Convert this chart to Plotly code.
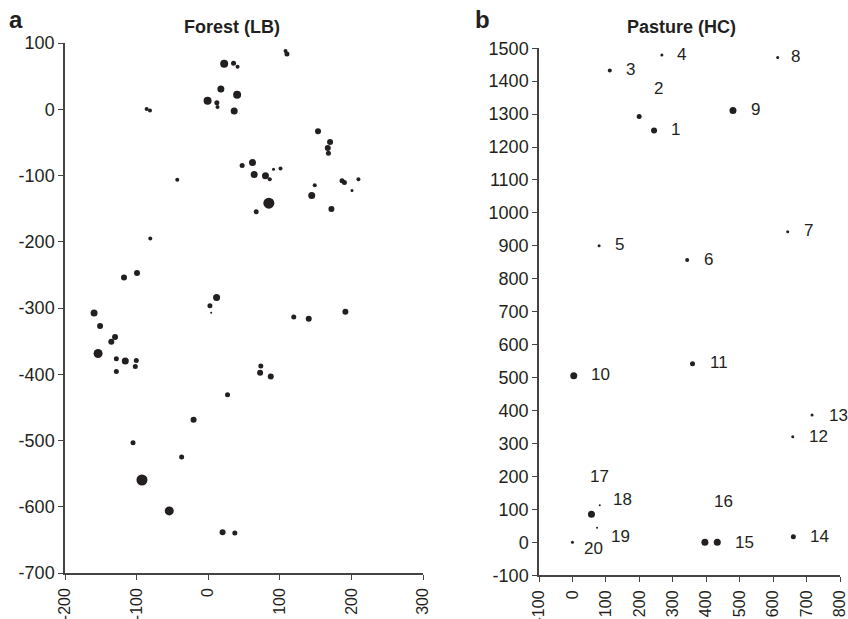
import plotly.graph_objects as go

# ---- Panel a: Forest (LB) ----
forest_x = [22.3, 35.4, 41, 108, 110, 17.7, -0.9, 12.1, 13, 40.4, 36.3, -86, -81.3, -43.2,
            153.4, 170.2, 167, 167.9, 47.4, 61.9, 64.2, 80, 86, 91.2, 101, 148.8, 144.6,
            186.9, 190.2, 209.8, 200.8, 84.7, 172.1, 67, -80.9, -117.6, -99.4, -159.4, -151,
            -130.1, -135.3, -153.8, -128.3, -115.8, -100.4, -101.8, -128.3, 2.4, 11.7, 4.2,
            119.5, 140.4, 191.6, 73.5, 72.5, 87.4, 27, -20.4, -105, -37.1, -92.5, -54.4,
            20.1, 37.2]
forest_y = [68.8, 69.4, 64.3, 88, 83.4, 30.6, 13, 10, 3.5, 22, -2.6, 0.5, -2, -106.6,
            -33.2, -49.3, -58.4, -66.4, -85, -80.5, -98.6, -100.2, -105.6, -90.5, -89.6,
            -114.6, -130.3, -108, -110.7, -105.6, -122.8, -141.8, -150.4, -154.9, -195.2,
            -254, -247, -307.7, -327.3, -343.9, -351, -368.6, -376.6, -380, -379.2, -388.2,
            -395.8, -296.7, -284.2, -307.2, -313.7, -316.3, -305.7, -387.6, -397.7, -403.3,
            -430.9, -468.6, -503.3, -524.9, -559.6, -606.3, -638.6, -639.5]
forest_w = [8, 5, 4, 4, 5, 7, 8, 5, 4, 8, 7, 4, 4, 4,
            6, 6, 6, 5, 5, 7, 7, 7, 4, 3, 4, 4, 7,
            5, 5, 4, 3, 11, 6, 5, 4, 6, 6, 7, 6,
            6, 6, 9, 5, 7, 5, 5, 5, 5, 7, 2,
            5, 6, 6, 5, 6, 6, 5, 6, 5, 5, 11, 9,
            6, 5]
forest_xticks = [-200, -100, 0, 100, 200, 300]
forest_yticks = [100, 0, -100, -200, -300, -400, -500, -600, -700]

# ---- Panel b: Pasture (HC) ----
pasture_id = [str(i) for i in range(1, 21)]
pasture_x = [244, 199.5, 111.7, 267.4, 79.7, 343, 643.7, 613.7, 480, 3.9, 359, 658.7,
             716.5, 660.5, 433, 396, 56.9, 81.7, 73.7, 0]
pasture_y = [1250, 1293, 1432, 1479, 900, 857, 943, 1472, 1311, 506, 542, 320.6,
             386.5, 17, 0, 0, 85, 113, 44.3, 0]
pasture_w = [6, 5, 4, 3, 3, 4, 3, 3, 7, 7, 5, 3, 3, 5, 7, 7, 7, 2, 2, 3]
label_x = [308, 256, 173.6, 327, 139.5, 406, 705, 666.5, 546, 82.6, 437, 735.5, 795,
           738.4, 514, 452, 79.7, 149.7, 144.6, 61.7]
label_y = [1252, 1378, 1434, 1481, 904, 860, 948, 1474, 1314, 509, 545, 320.6, 386,
           17, 0, 123, 201, 130.5, 19, -18]
pasture_xticks = [-100, 0, 100, 200, 300, 400, 500, 600, 700, 800]
pasture_yticks = [1500, 1400, 1300, 1200, 1100, 1000, 900, 800, 700, 600, 500, 400,
                  300, 200, 100, 0, -100]

FONT = "Liberation Sans, Arial, sans-serif"
INK = "#231f20"


def hy(vals):
    return [str(v) for v in vals]  # plain hyphen-minus, as in the original


fig = go.Figure()
fig.add_trace(go.Scatter(x=forest_x, y=forest_y, mode="markers",
                         marker=dict(size=forest_w, color=INK, opacity=1, line=dict(width=0)),
                         xaxis="x", yaxis="y", showlegend=False, cliponaxis=False))
fig.add_trace(go.Scatter(x=pasture_x, y=pasture_y, mode="markers",
                         marker=dict(size=pasture_w, color=INK, opacity=1, line=dict(width=0)),
                         xaxis="x2", yaxis="y2", showlegend=False, cliponaxis=False))

annotations = []
for t, lx, ly in zip(pasture_id, label_x, label_y):
    annotations.append(dict(x=lx, y=ly, xref="x2", yref="y2", text=t, showarrow=False,
                            xanchor="center", yanchor="middle",
                            font=dict(family=FONT, size=17, color=INK)))


def paper_text(px, py, text, size):
    return dict(x=px / 848, y=1 - py / 619, xref="paper", yref="paper", text=text,
                showarrow=False, xanchor="center", yanchor="middle",
                font=dict(family=FONT, size=size, color=INK))


annotations += [
    paper_text(231.7, 27, "<b>Forest (LB)</b>", 18),
    paper_text(681.7, 27, "<b>Pasture (HC)</b>", 18),
    paper_text(16, 20, "<b>a</b>", 24),
    paper_text(482, 20, "<b>b</b>", 24),
]

axis_common = dict(showgrid=False, zeroline=False, showline=True, linecolor="#444",
                   linewidth=1.5, ticks="outside", ticklen=5, tickcolor="#444",
                   automargin=False, ticklabeloverflow="allow")
yfont = dict(family=FONT, size=18, color=INK)
xfont = dict(family=FONT, size=16, color=INK)

fig.update_layout(
    width=848, height=619,
    margin=dict(l=0, r=0, t=0, b=0, pad=0),
    paper_bgcolor="white", plot_bgcolor="white",
    xaxis=dict(domain=[65 / 848, 423 / 848], range=[-200, 300], tickangle=-90,
               anchor="y", tickmode="array", tickvals=forest_xticks,
               ticktext=hy(forest_xticks), ticklabelstandoff=2, tickfont=xfont,
               **axis_common),
    yaxis=dict(domain=[1 - 573 / 619, 1 - 43 / 619], range=[-700, 100],
               anchor="x", tickmode="array", tickvals=forest_yticks,
               ticktext=hy(forest_yticks), tickfont=yfont, **axis_common),
    xaxis2=dict(domain=[539 / 848, 840 / 848], range=[-100, 800], tickangle=-90,
                anchor="y2", tickmode="array", tickvals=pasture_xticks,
                ticktext=hy(pasture_xticks), ticklabelstandoff=2, tickfont=xfont,
                **axis_common),
    yaxis2=dict(domain=[1 - 575.3 / 619, 1 - 48.2 / 619], range=[-100, 1500],
                anchor="x2", tickmode="array", tickvals=pasture_yticks,
                ticktext=hy(pasture_yticks), tickfont=yfont, **axis_common),
    annotations=annotations,
)

fig.write_html("out.html")
